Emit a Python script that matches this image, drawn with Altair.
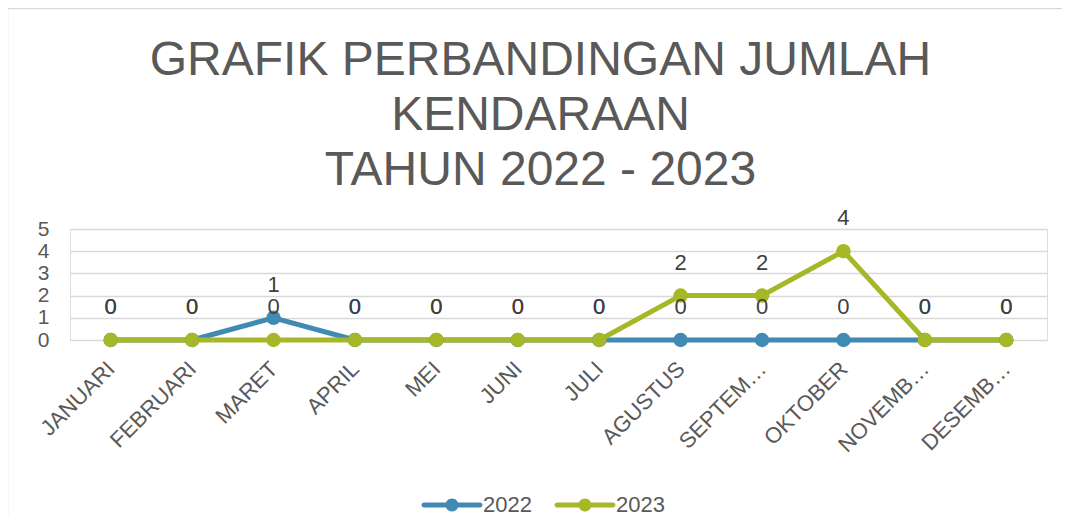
import altair as alt
import pandas as pd

months = ["JANUARI", "FEBRUARI", "MARET", "APRIL", "MEI", "JUNI", "JULI",
          "AGUSTUS", "SEPTEMBER", "OKTOBER", "NOVEMBER", "DESEMBER"]
years = ["2022", "2023"]
values_2022 = [0, 0, 1, 0, 0, 0, 0, 0, 0, 0, 0, 0]
values_2023 = [0, 0, 0, 0, 0, 0, 0, 2, 2, 4, 0, 0]
colors = ["#418AB3", "#A6B727"]
title_lines = ["GRAFIK PERBANDINGAN JUMLAH", "KENDARAAN", "TAHUN 2022 - 2023"]

rows = []
for yr, vals in zip(years, [values_2022, values_2023]):
    for m, v in zip(months, vals):
        rows.append({"Bulan": m, "Tahun": yr, "Jumlah": v})
df = pd.DataFrame(rows)

FONT = "Liberation Sans"
GRAY = "#595959"

x = alt.X("Bulan:N", sort=months,
          axis=alt.Axis(title=None, labelAngle=-45, labelAlign="right",
                        labelBaseline="middle", labelFontSize=22,
                        labelColor=GRAY, labelLimit=120, labelPadding=25,
                        domain=False, ticks=False, grid=False, labelFont=FONT))
y = alt.Y("Jumlah:Q", scale=alt.Scale(domain=[0, 5], nice=False),
          axis=alt.Axis(title=None, values=[0, 1, 2, 3, 4, 5], labelFontSize=21,
                        labelColor=GRAY, labelPadding=21, domain=False,
                        ticks=False, gridColor="#d9d9d9", gridWidth=1.5,
                        labelFont=FONT))
cscale = alt.Scale(domain=years, range=colors)

legend_path = ("M-4.3,-0.385 L4.3,-0.385 A0.385,0.385 0 0,1 4.3,0.385 "
               "L-4.3,0.385 A0.385,0.385 0 0,1 -4.3,-0.385 Z "
               "M-1,0 A1,1 0 1,1 1,0 A1,1 0 1,1 -1,0 Z")

legend = alt.Legend(orient="none", legendX=371, legendY=265,
                    direction="horizontal", title=None,
                    symbolType=legend_path, symbolSize=169,
                    symbolStrokeWidth=0, labelFontSize=22,
                    labelColor=GRAY, labelFont=FONT,
                    labelOffset=20, columnPadding=22)

base = alt.Chart(df)

lines = base.mark_line(strokeWidth=5, strokeCap="round", strokeJoin="round").encode(
    x=x, y=y,
    stroke=alt.Stroke("Tahun:N", scale=cscale, legend=legend),
)

points = base.mark_point(filled=True, size=210, opacity=1).encode(
    x=x, y=y,
    fill=alt.Fill("Tahun:N", scale=cscale, legend=legend),
)

labels = base.mark_text(dy=-33, fontSize=22, color="#404040", font=FONT).encode(
    x=x, y=y, text=alt.Text("Jumlah:Q"),
)

border = alt.Chart(pd.DataFrame({"k": [0]})).mark_rect(
    fill=None, stroke="#d9d9d9", strokeWidth=1.5).encode(
    x=alt.value(-62.5), x2=alt.value(1100), y=alt.value(-220.5), y2=alt.value(400))

chart = alt.layer(border, lines, points, labels).properties(
    width=977, height=111,
    title=alt.Title(title_lines, fontSize=48, lineHeight=55, font=FONT,
                    fontWeight="normal", color=GRAY, anchor="middle",
                    frame="group", dx=-18, offset=-187),
    autosize=alt.AutoSizeParams(type="none"),
    padding={"left": 62, "top": 221, "right": 15, "bottom": 176},
).configure_view(stroke=None).configure(font=FONT)

chart.save("out.html", embed_options={"renderer": "svg", "actions": False})
